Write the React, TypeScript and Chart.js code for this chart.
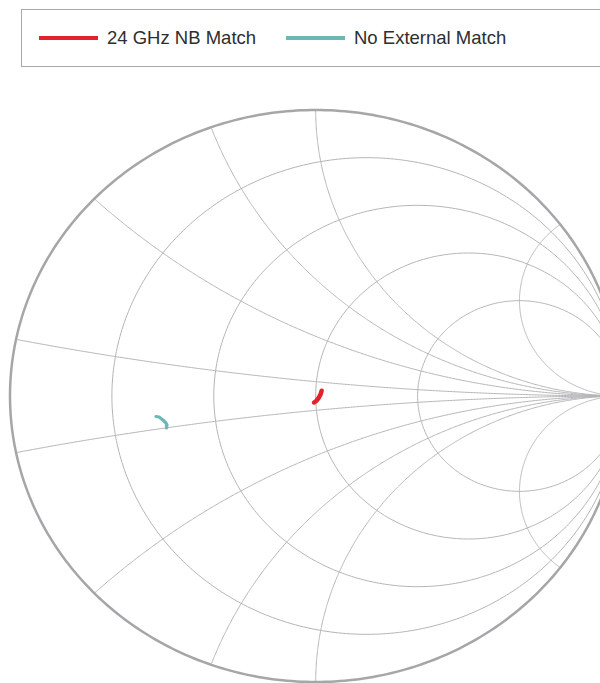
import React, { useEffect, useRef } from "react";
import { Chart, registerables } from "chart.js";

Chart.register(...registerables);

// Reflection-coefficient traces (real / imaginary parts of Γ)
const nbMatchRe = [0.0195, 0.0165, 0.0095, 0.0015, -0.0056];
const nbMatchIm = [0.0185, 0.0075, -0.007, -0.0175, -0.0227];
const noMatchRe = [-0.5225, -0.5126, -0.4996, -0.4898, -0.4865, -0.4881];
const noMatchIm = [-0.0717, -0.0734, -0.0839, -0.0944, -0.1014, -0.1119];

// Smith chart grid values
const resistanceValues = [0.2, 0.5, 1, 2];
const reactanceValues = [0.1, 0.4, 0.7, 1, 3];

const seriesNames = ["24 GHz NB Match", "No External Match"];
const seriesColors = ["#e3222c", "#6db8b6"];

const smithGrid = {
  id: "smithGrid",
  beforeDatasetsDraw(chart: any) {
    const { ctx } = chart;
    const xs = chart.scales.x;
    const ys = chart.scales.y;
    const px = (v: number) => xs.getPixelForValue(v);
    const py = (v: number) => ys.getPixelForValue(v);
    const N = 400;
    ctx.save();
    ctx.lineJoin = "round";
    // inner grid
    ctx.strokeStyle = "#b4b4b6";
    ctx.lineWidth = 1;
    resistanceValues.forEach((r) => {
      const c = r / (1 + r);
      const R = 1 / (1 + r);
      ctx.beginPath();
      for (let i = 0; i <= N; i++) {
        const t = (i / N) * Math.PI * 2;
        const gx = c + R * Math.cos(t);
        const gy = R * Math.sin(t);
        if (i === 0) ctx.moveTo(px(gx), py(gy));
        else ctx.lineTo(px(gx), py(gy));
      }
      ctx.stroke();
    });
    reactanceValues.forEach((xv) => {
      [1, -1].forEach((sgn) => {
        const R = 1 / xv;
        const a0 = -Math.PI / 2;
        const dx = -2 / (xv * xv + 1);
        const dy = (xv * xv - 1) / (xv * (xv * xv + 1));
        let a1 = Math.atan2(dy, dx);
        if (a1 > a0) a1 -= Math.PI * 2;
        ctx.beginPath();
        for (let i = 0; i <= N; i++) {
          const a = a0 + ((a1 - a0) * i) / N;
          const gx = 1 + R * Math.cos(a);
          const gy = (R + R * Math.sin(a)) * sgn;
          if (i === 0) ctx.moveTo(px(gx), py(gy));
          else ctx.lineTo(px(gx), py(gy));
        }
        ctx.stroke();
      });
    });
    // outer circle
    ctx.strokeStyle = "#a6a6a9";
    ctx.lineWidth = 2.5;
    ctx.beginPath();
    for (let i = 0; i <= N; i++) {
      const t = (i / N) * Math.PI * 2;
      const gx = Math.cos(t);
      const gy = Math.sin(t);
      if (i === 0) ctx.moveTo(px(gx), py(gy));
      else ctx.lineTo(px(gx), py(gy));
    }
    ctx.stroke();
    ctx.restore();
  },
};

export default function App() {
  const canvasRef = useRef<HTMLCanvasElement | null>(null);

  useEffect(() => {
    if (!canvasRef.current) return;
    const chart = new Chart(canvasRef.current, {
      type: "scatter",
      data: {
        datasets: [
          {
            label: seriesNames[0],
            data: nbMatchRe.map((v, i) => ({ x: v, y: nbMatchIm[i] })),
            showLine: true,
            borderColor: seriesColors[0],
            backgroundColor: seriesColors[0],
            borderWidth: 4.5,
            borderCapStyle: "round",
            borderJoinStyle: "round",
            pointRadius: 0,
            fill: false,
          },
          {
            label: seriesNames[1],
            data: noMatchRe.map((v, i) => ({ x: v, y: noMatchIm[i] })),
            showLine: true,
            borderColor: seriesColors[1],
            backgroundColor: seriesColors[1],
            borderWidth: 3.2,
            borderCapStyle: "round",
            borderJoinStyle: "round",
            pointRadius: 0,
            fill: false,
          },
        ],
      },
      options: {
        animation: false,
        responsive: false,
        maintainAspectRatio: false,
        layout: { padding: { left: 10, right: 0, top: 110, bottom: 1 } },
        scales: {
          x: { type: "linear", min: -1, max: 0.93, display: false },
          y: { type: "linear", min: -1, max: 1, display: false },
        },
        plugins: {
          legend: { display: false },
          tooltip: { enabled: false },
        },
      },
      plugins: [smithGrid],
    } as any);
    return () => chart.destroy();
  }, []);

  const font = '"Liberation Sans", Arial, Helvetica, sans-serif';

  return (
    <div style={{ position: "absolute", left: 0, top: 0, width: 600, height: 683, overflow: "hidden", background: "#fff" }}>
      <canvas ref={canvasRef} width={600} height={683} style={{ position: "absolute", left: 0, top: 0, display: "block" }} />
      <div
        style={{
          position: "absolute",
          left: 21,
          top: 9,
          width: 640,
          height: 58,
          boxSizing: "border-box",
          border: "1px solid #a8a8a8",
          background: "#fff",
        }}
      />
      {[0, 1].map((i) => (
        <React.Fragment key={i}>
          <div
            style={{
              position: "absolute",
              left: i === 0 ? 39 : 286,
              top: 36,
              width: 59,
              height: 4,
              background: seriesColors[i],
            }}
          />
          <div
            style={{
              position: "absolute",
              left: i === 0 ? 107 : 354,
              top: 28,
              lineHeight: "20px",
              fontFamily: font,
              fontSize: 18.5,
              color: "#2e2e2e",
              whiteSpace: "nowrap",
            }}
          >
            {seriesNames[i]}
          </div>
        </React.Fragment>
      ))}
    </div>
  );
}
